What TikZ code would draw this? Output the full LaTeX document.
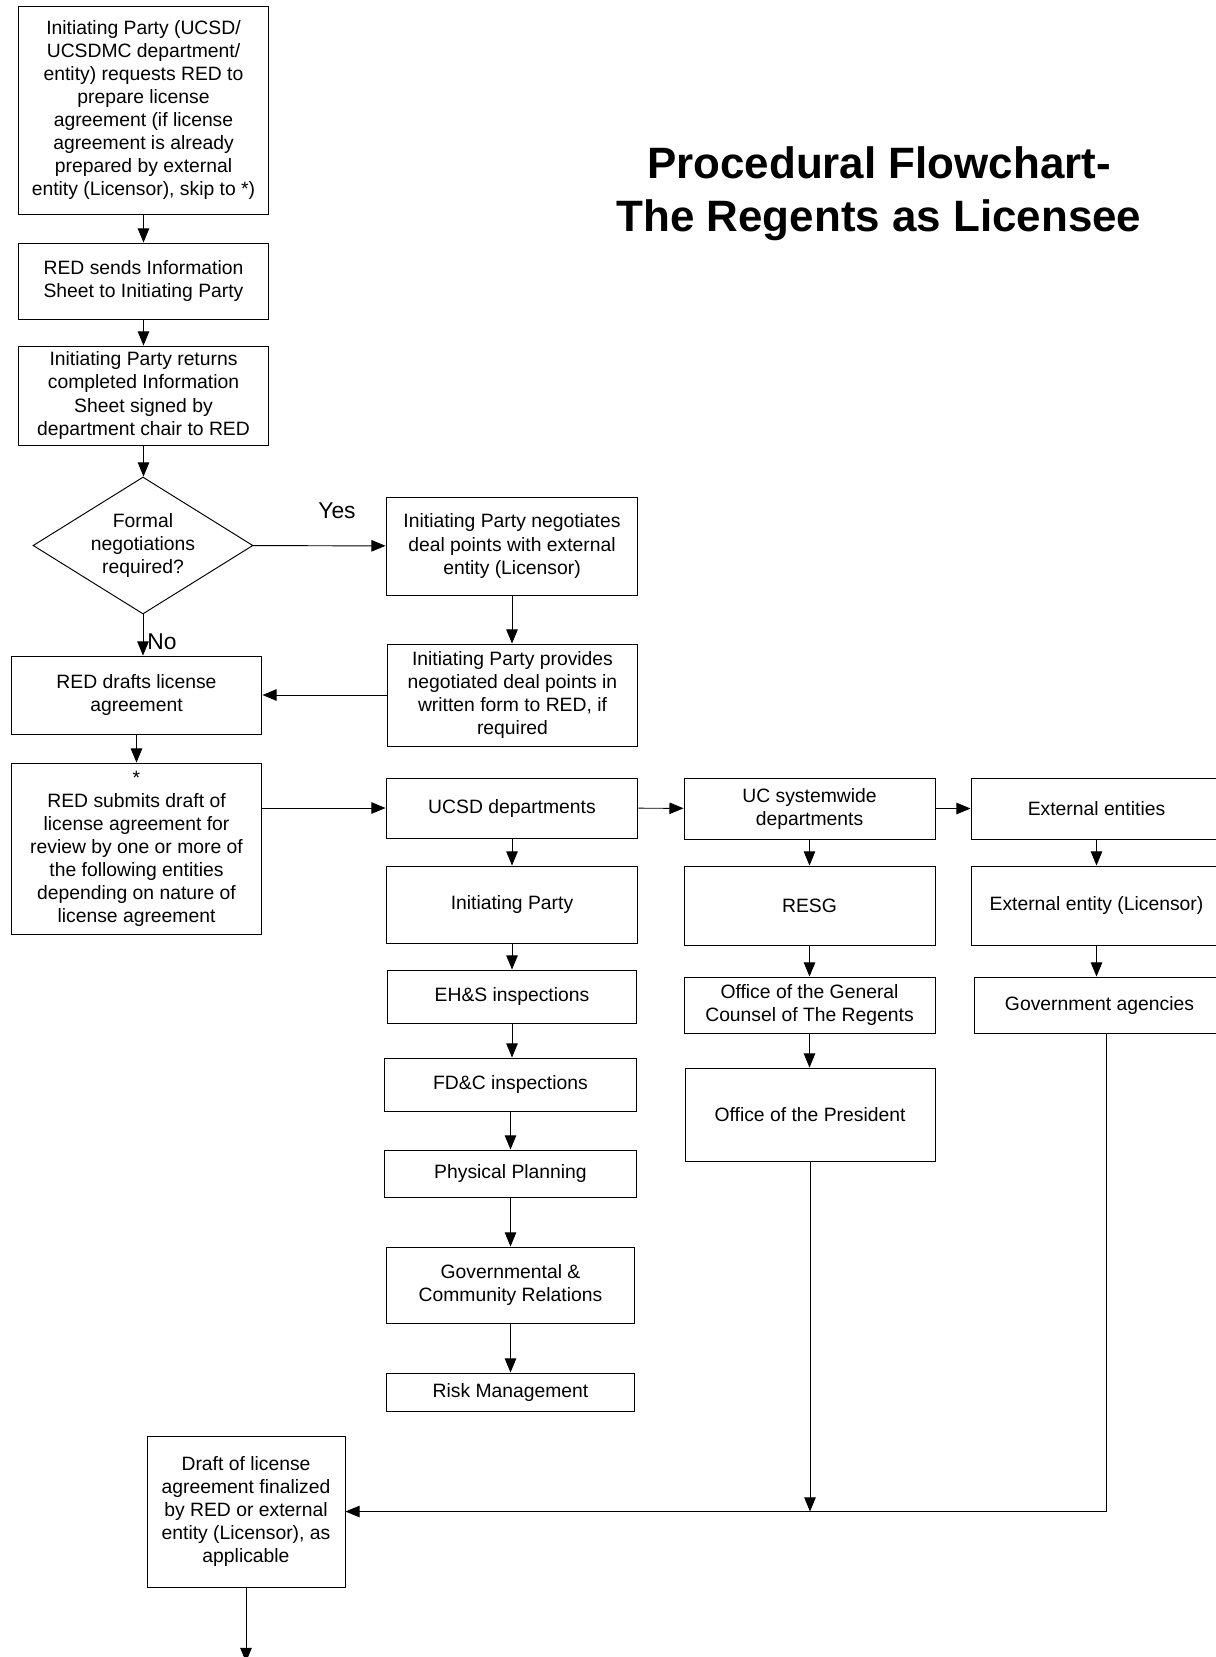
\documentclass[tikz,border=0pt]{standalone}
\usepackage{fontspec}
\setmainfont{Liberation Sans}
\usetikzlibrary{arrows.meta,shapes.geometric}

\begin{document}
\begin{tikzpicture}[x=0.02cm, y=-0.02cm,
	box/.style={draw, line width=0.55pt, align=center, minimum width=5.02cm, inner sep=2pt, font=\fontsize{11}{13.1}\selectfont},
	decision/.style={draw, diamond, line width=0.55pt, align=center, aspect=1.6, inner sep=0pt, minimum width=4.4cm, minimum height=2.74cm, font=\fontsize{11}{13.1}\selectfont},
	flow/.style={line width=0.55pt, -{Triangle[length=8pt,width=6.5pt]}},
	answer/.style={font=\fontsize{13}{15}\selectfont, inner sep=0pt}]
	\clip (0,0) rectangle (1216,1657);
	\node[font=\fontsize{25}{30}\selectfont\bfseries, align=center] (title) at (879,193.5) {Procedural Flowchart-\\The Regents as Licensee};
	% left column
	\node[box, minimum height=4.16cm] (req) at (143.5,110) {Initiating Party (UCSD/\\UCSDMC department/\\entity) requests RED to\\prepare license\\agreement (if license\\agreement is already\\prepared by external\\entity (Licensor), skip to *)};
	\node[box, minimum height=1.52cm] (sends) at (143.5,281) {RED sends Information\\Sheet to Initiating Party};
	\node[box, minimum height=1.98cm] (returns) at (143.5,395.5) {Initiating Party returns\\completed Information\\Sheet signed by\\department chair to RED};
	\node[decision] (formal) at (143,545.5) {Formal\\negotiations\\required?};
	\node[box, minimum width=5.04cm, minimum height=1.96cm] (negotiate) at (512,546) {Initiating Party negotiates\\deal points with external\\entity (Licensor)};
	\node[box, minimum height=2.04cm] (provide) at (512.5,695) {Initiating Party provides\\negotiated deal points in\\written form to RED, if\\required};
	\node[box, minimum height=1.56cm] (drafts) at (136.5,695) {RED drafts license\\agreement};
	\node[box, minimum height=3.42cm] (submit) at (136.5,848.5) {*\\RED submits draft of\\license agreement for\\review by one or more of\\the following entities\\depending on nature of\\license agreement};
	\node[answer] (yes) at (337,511) {Yes};
	\node[answer, anchor=west] (no) at (147,642) {No};
	% UCSD column
	\node[box, minimum width=5.04cm, minimum height=1.2cm] (ucsd) at (512,808) {UCSD departments};
	\node[box, minimum width=5.04cm, minimum height=1.54cm] (initparty) at (512,904.5) {Initiating Party};
	\node[box, minimum width=5cm, minimum height=1.06cm] (ehs) at (512,996.5) {EH\&S inspections};
	\node[box, minimum width=5.06cm, minimum height=1.06cm] (fdc) at (510.5,1084.5) {FD\&C inspections};
	\node[box, minimum width=5.06cm, minimum height=0.94cm] (physical) at (510.5,1173.5) {Physical Planning};
	\node[box, minimum width=4.98cm, minimum height=1.52cm] (gcr) at (510.5,1285) {Governmental \&\\Community Relations};
	\node[box, minimum width=4.98cm, minimum height=0.76cm] (risk) at (510.5,1392) {Risk Management};
	% UC systemwide column
	\node[box, minimum height=1.22cm] (ucsys) at (809.5,808.5) {UC systemwide\\departments};
	\node[box, minimum height=1.58cm] (resg) at (809.5,905.5) {RESG};
	\node[box, minimum height=1.12cm] (ogc) at (809.5,1005) {Office of the General\\Counsel of The Regents};
	\node[box, minimum width=5cm, minimum height=1.86cm] (president) at (810,1114.5) {Office of the President};
	% external column
	\node[box, minimum height=1.22cm] (external) at (1096.5,808.5) {External entities};
	\node[box, minimum height=1.58cm] (licensor) at (1096.5,905.5) {External entity (Licensor)};
	\node[box, minimum height=1.12cm] (agencies) at (1099.5,1005) {Government agencies};
	% final step
	\node[box, minimum width=3.96cm, minimum height=3.02cm] (finalized) at (246,1511.5) {Draft of license\\agreement finalized\\by RED or external\\entity (Licensor), as\\applicable};
	\coordinate (next) at (246,1662);

	\foreach \a/\b in {req/sends, sends/returns, returns/formal, negotiate/provide, drafts/submit, ucsd/initparty, initparty/ehs, ehs/fdc, fdc/physical, physical/gcr, gcr/risk, ucsys/resg, resg/ogc, ogc/president, external/licensor, licensor/agencies}
		\draw[flow] (\a.south) -- (\a.south |- \b.north);
	\draw[flow] (formal) -- (negotiate);
	\draw[flow] (formal.south) -- (formal.south |- drafts.north);
	\draw[flow] (provide) -- (drafts);
	\draw[flow] (submit.east |- ucsd) -- (ucsd);
	\draw[flow] (ucsd) -- (ucsys);
	\draw[flow] (ucsys) -- (external);
	\draw[flow] (president.south) -- (president.south |- finalized.east);
	\draw[flow] ([xshift=0.13cm]agencies.south) |- (finalized.east);
	\draw[flow] (finalized) -- (next);
\end{tikzpicture}
\end{document}
